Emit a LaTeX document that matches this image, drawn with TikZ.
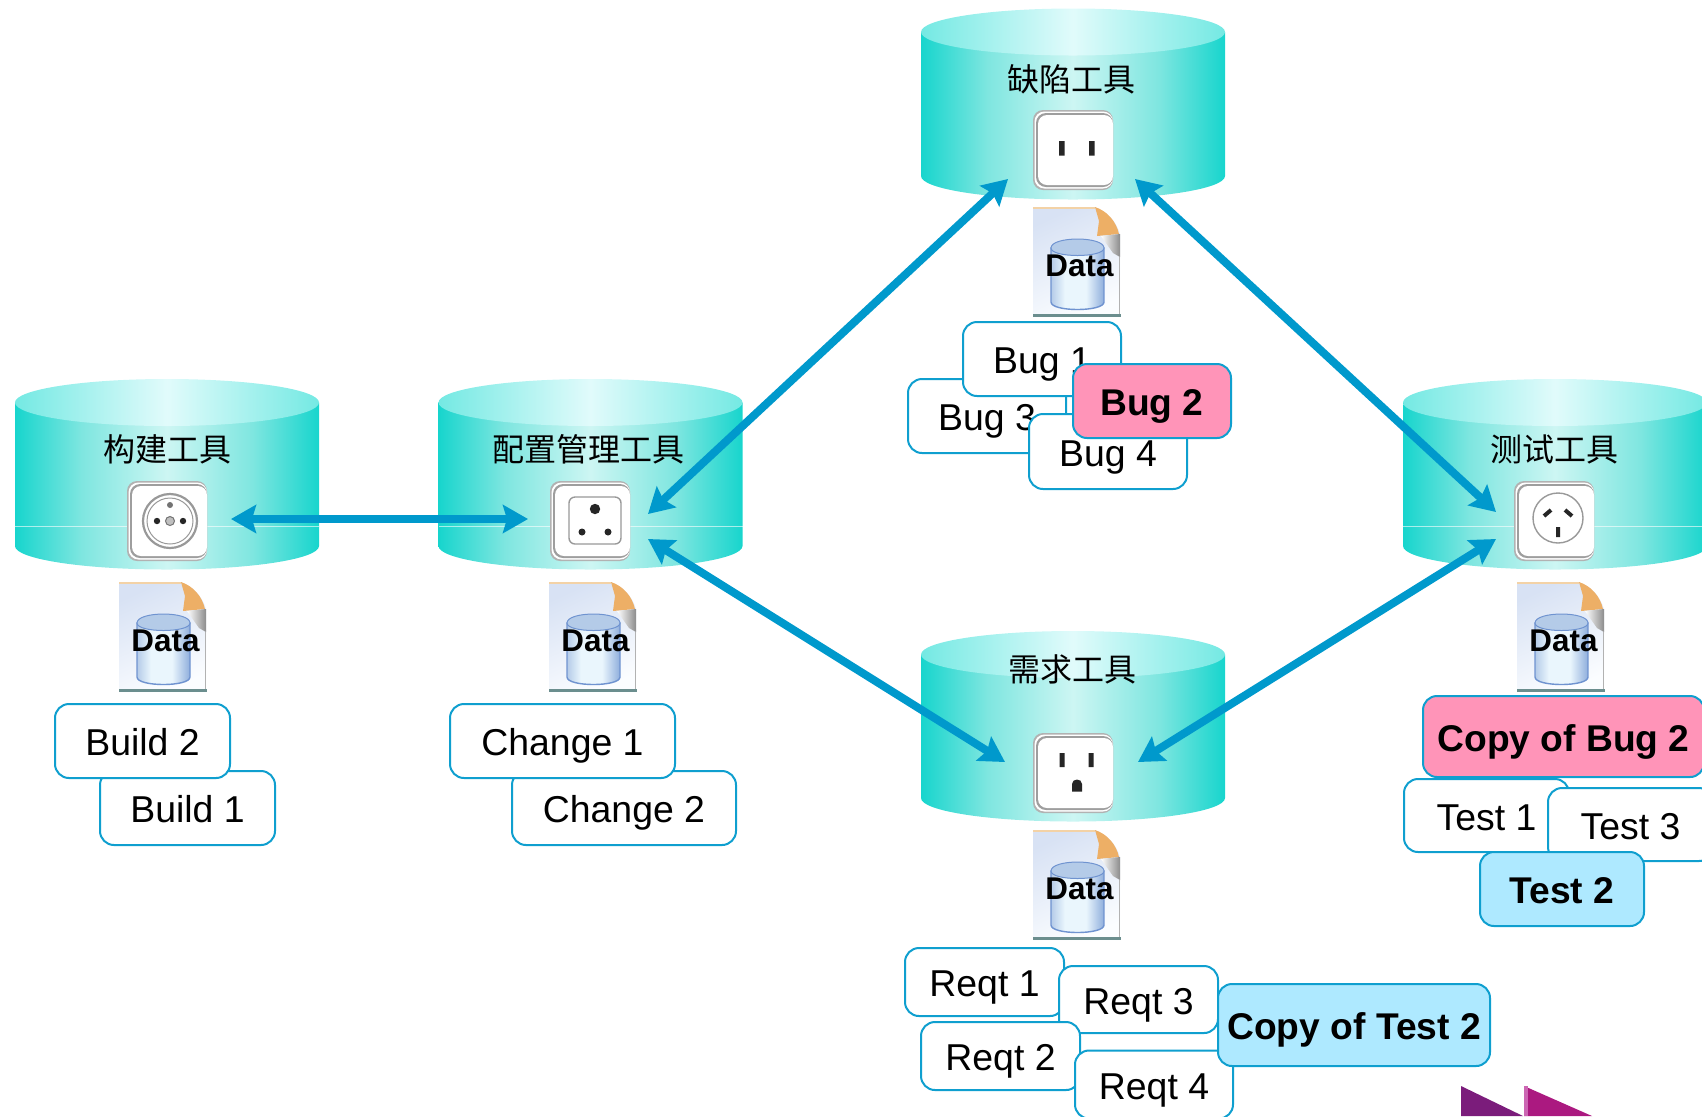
\documentclass[tikz,border=0pt]{standalone}
\usepackage{fontspec}
\setmainfont{Liberation Sans}
\newfontfamily\cjkfont{Noto Sans CJK SC}
\usetikzlibrary{arrows.meta}
\definecolor{arrowc}{HTML}{0099CC}
\definecolor{edgec}{HTML}{0F9FCF}
\definecolor{pinkc}{HTML}{FF94B8}
\definecolor{bluec}{HTML}{AEE9FF}
\definecolor{cylE}{HTML}{17D5CD}
\definecolor{cylQ}{HTML}{7FE6E0}
\definecolor{cylM}{HTML}{CDF6F3}
\definecolor{topE}{HTML}{74E9E3}
\definecolor{topM}{HTML}{E1FBFB}
\definecolor{dbL}{HTML}{B4CBE8}
\definecolor{dbH}{HTML}{EAF6FD}
\definecolor{dbR}{HTML}{8FAEDC}
\definecolor{dbLine}{HTML}{6F93D0}
\definecolor{pageT}{HTML}{D8E2F4}
\definecolor{pageB}{HTML}{FBFDFF}
\definecolor{foldc}{HTML}{EDAF66}
\definecolor{pageTop}{HTML}{F3D2A6}
\definecolor{pageBase}{HTML}{6B8E8E}
\definecolor{markA}{RGB}{123,28,123}
\definecolor{markB}{RGB}{171,25,128}
\definecolor{markC}{RGB}{204,102,179}
\pgfdeclarehorizontalshading{cylbody}{100bp}{color(0bp)=(cylE);color(25bp)=(cylE);color(36bp)=(cylQ);color(50bp)=(cylM);color(64bp)=(cylQ);color(75bp)=(cylE);color(100bp)=(cylE)}
\pgfdeclarehorizontalshading{cyltop}{100bp}{color(0bp)=(topE);color(25bp)=(topE);color(50bp)=(topM);color(75bp)=(topE);color(100bp)=(topE)}
\pgfdeclarehorizontalshading{dbbody}{100bp}{color(0bp)=(dbL);color(25bp)=(dbL);color(38bp)=(dbH);color(58bp)=(dbH);color(75bp)=(dbR);color(100bp)=(dbR)}
\tikzset{
  card/.style={draw=edgec,line width=1pt,fill=white,rounded corners=7pt,inner sep=0pt,
    font=\fontsize{18.7}{18}\selectfont,text height=14.9pt,text depth=0pt,align=center},
  hotcard/.style={card,fill=pinkc,font=\fontsize{18.6}{18}\selectfont\bfseries},
  coolcard/.style={card,fill=bluec,font=\fontsize{18.6}{18}\selectfont\bfseries},
  sz/.style 2 args={minimum width=#1*0.5pt,minimum height=#2*0.5pt},
  toollabel/.style={font=\cjkfont\fontsize{16}{16}\selectfont,inner sep=0pt},
  datalabel/.style={font=\fontsize{15.7}{16}\selectfont\bfseries,inner sep=0pt},
  sockbase/.style={minimum width=40pt,minimum height=40pt,inner sep=0pt,draw=none},
  biarrow/.style={draw=arrowc,line width=4pt,
    {Stealth[length=12.5pt,width=14pt,inset=2pt]}-{Stealth[length=12.5pt,width=14pt,inset=2pt]}},
  socketink/.style={fill=black!85},
  socketring/.style={draw=black!40,line width=0.7pt},
}
\newcommand{\toolcyl}[3]{%
  \shade[shading=cylbody] ({#1-152},#2) -- ({#1-152},#3)
    .. controls ({#1-152},{#3+13}) and ({#1-84},{#3+23.5}) .. (#1,{#3+23.5})
    .. controls ({#1+84},{#3+23.5}) and ({#1+152},{#3+13}) .. ({#1+152},#3)
    -- ({#1+152},#2) -- cycle;
  \shade[shading=cyltop] ({#1-152},#2)
    .. controls ({#1-152},{#2-13}) and ({#1-84},{#2-23.5}) .. (#1,{#2-23.5})
    .. controls ({#1+84},{#2-23.5}) and ({#1+152},{#2-13}) .. ({#1+152},#2)
    .. controls ({#1+152},{#2+13}) and ({#1+84},{#2+23.5}) .. (#1,{#2+23.5})
    .. controls ({#1-84},{#2+23.5}) and ({#1-152},{#2+13}) .. ({#1-152},#2) -- cycle;
}
\newcommand{\socketbody}{%
  \fill[black!30,rounded corners=5pt] (0,0) rectangle (80,80);
  \fill[white,rounded corners=5pt] (1.5,1.5) rectangle (80,78.5);
  \fill[black!38,rounded corners=5pt] (3,3) rectangle (80,77);
  \fill[white,rounded corners=4.5pt] (5,5) rectangle (80,75);
}
\newcommand{\dataicon}[3]{%
  \begin{scope}[shift={(#2,#3)}]
    \shade[top color=pageT,bottom color=pageB,shading angle=25]
      (0,0) -- (61,0) .. controls (74,4) and (83,14) .. (87,27) -- (87,110) -- (0,110) -- cycle;
    \fill[pageTop] (0,0) rectangle (62,1.5);
    \fill[foldc] (62,0) .. controls (74,4) and (83,14) .. (86,27)
      -- (64,29) -- (66,14) -- cycle;
    \shade[left color=white,right color=black!45] (68,29) -- (87,27) -- (87,50) -- (80,46) -- cycle;
    \fill[black!30] (85.5,50) rectangle (87,108);
    \fill[pageBase] (0,107) rectangle (88,110);
    \shade[shading=dbbody,draw=dbLine,line width=0.7pt] (18,41) -- (18,95)
      .. controls (18,105) and (71,105) .. (71,95) -- (71,41) -- cycle;
    \filldraw[fill=dbL,draw=dbLine,line width=0.5pt] (18,41) .. controls (18,29) and (71,29) .. (71,41)
      .. controls (71,51) and (18,51) .. (18,41) -- cycle;
    \node[datalabel] (#1) at (46.5,59) {Data};
  \end{scope}%
}
\begin{document}
\begin{tikzpicture}[x=0.5pt,y=-0.5pt]
\useasboundingbox (0,0) rectangle (1702,1116);
% cylinders
\toolcyl{167}{402.5}{546}
\toolcyl{590.5}{402.5}{546}
\toolcyl{1555}{402.5}{546}
\toolcyl{1073}{32}{176}
\toolcyl{1073}{654.5}{798}
\draw[white,opacity=.6,line width=.4pt] (15,526) -- (319,526) (439,526) -- (743,526) (1403,526) -- (1707,526);
% tool labels
\node[toollabel] (tbuild) at (167,449.5) {构建工具};
\node[toollabel] (tconf) at (588,449.5) {配置管理工具};
\node[toollabel] (tbug) at (1071,79) {缺陷工具};
\node[toollabel] (ttest) at (1554,449.5) {测试工具};
\node[toollabel] (treq) at (1072,669) {需求工具};
% sockets
\node[sockbase] (sbuild) at (167,521) {};
\begin{scope}[shift={(127,481)}]
  \socketbody
  \draw[socketring,line width=1.1pt] (43,40) circle (27);
  \draw[socketring,line width=.5pt] (43,40) circle (23);
  \fill[socketink] (30,40) circle (3.2) (56,40) circle (3.2);
  \fill[black!55] (43,24) circle (3);
  \filldraw[fill=black!25,draw=black!55,line width=.5pt] (43,40) circle (4.5);
\end{scope}
\node[sockbase] (sconf) at (590,521) {};
\begin{scope}[shift={(550,481)}]
  \socketbody
  \draw[socketring,rounded corners=3pt] (19,16) rectangle (71,63);
  \fill[socketink] (45,28) circle (5.2) (32,51) circle (3.5) (58,51) circle (3.5);
\end{scope}
\node[sockbase] (stest) at (1554,521) {};
\begin{scope}[shift={(1514,481)}]
  \socketbody
  \draw[socketring] (44,37) circle (25);
  \draw[black!85,line width=2pt] (30,35) -- (37,29) (58,35) -- (51,29) (44,46) -- (44,56);
\end{scope}
\node[sockbase] (sreq) at (1073,772.5) {};
\begin{scope}[shift={(1033,733)}]
  \socketbody
  \fill[socketink] (26.5,20) rectangle (31.5,34) (55.5,20) rectangle (60.5,34);
  \fill[socketink] (39,58.5) -- (39,51) .. controls (39,45) and (49,45) .. (49,51) -- (49,58.5) -- cycle;
\end{scope}
\node[sockbase] (sbug) at (1073,150) {};
\begin{scope}[shift={(1033,110)}]
  \socketbody
  \fill[socketink] (26,31) rectangle (31.5,45.5) (56,31) rectangle (61.5,45.5);
\end{scope}
% data icons
\dataicon{dbuild}{119}{582}
\dataicon{dconf}{549}{582}
\dataicon{dtest}{1517}{582}
\dataicon{dbug}{1033}{207}
\dataicon{dreq}{1033}{830}
% connector ends
\coordinate (pBuildE) at (231,519);
\coordinate (pConfW) at (528,519);
\coordinate (pConfUp) at (648,514);
\coordinate (pConfDn) at (648,539);
\coordinate (pBugL) at (1008,179);
\coordinate (pBugR) at (1135,179);
\coordinate (pTestUp) at (1496,512);
\coordinate (pTestDn) at (1496,539);
\coordinate (pReqL) at (1005,762);
\coordinate (pReqR) at (1138,762);
\draw[biarrow] (pBuildE) -- (pConfW);
\draw[biarrow] (pConfUp) -- (pBugL);
\draw[biarrow] (pBugR) -- (pTestUp);
\draw[biarrow] (pConfDn) -- (pReqL);
\draw[biarrow] (pTestDn) -- (pReqR);
% cards
\node[card,sz={175}{74}] (build1) at (187.5,808) {Build 1};
\node[card,sz={175}{74}] (build2) at (142.5,741) {Build 2};
\node[card,sz={224}{74}] (change2) at (624,808) {Change 2};
\node[card,sz={225}{74}] (change1) at (562.5,741) {Change 1};
\node[card,sz={158}{74}] (bug3) at (987,416) {Bug 3};
\node[card,sz={158}{74}] (bug1) at (1042,359) {Bug 1};
\node[card,sz={158}{75}] (bug4) at (1108,451.5) {Bug 4};
\node[hotcard,sz={158}{74}] (bug2) at (1152,401) {Bug 2};
\node[card,sz={165}{73}] (test1) at (1486.5,815.5) {Test 1};
\node[card,sz={165}{73}] (test3) at (1630.5,824.5) {Test 3};
\node[hotcard,sz={281}{81}] (copybug) at (1563.5,736.5) {Copy of Bug 2};
\node[coolcard,sz={164}{74}] (test2) at (1562,889) {Test 2};
\node[card,sz={159}{68}] (req1) at (984.5,982) {Reqt 1};
\node[card,sz={159}{67}] (req3) at (1138.5,999.5) {Reqt 3};
\node[card,sz={159}{68}] (req2) at (1000.5,1056) {Reqt 2};
\node[card,sz={158}{68}] (req4) at (1154,1084.5) {Reqt 4};
\node[coolcard,sz={272}{82}] (copytest) at (1354,1025) {Copy of Test 2};
% corner marks
\fill[markA] (1461,1086) -- (1523,1116) -- (1461,1116) -- cycle;
\fill[markB] (1524,1086) -- (1592,1116) -- (1524,1116) -- cycle;
\fill[markC] (1524,1086) rectangle (1528,1116);
\end{tikzpicture}
\end{document}
